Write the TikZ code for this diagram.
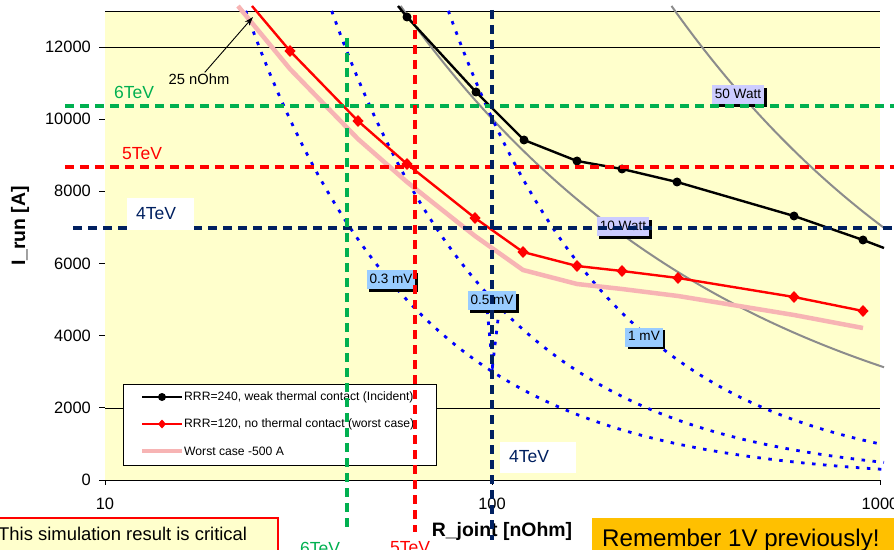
\documentclass[tikz,border=0pt]{standalone}
\usepackage{fontspec}
\setmainfont{Liberation Sans}
\usepackage{tikz}
\usepackage{xcolor}
\usetikzlibrary{arrows.meta, shadows, calc}
\definecolor{Plot_Yellow}{HTML}{FFFFCC}
\definecolor{TeV_Green}{HTML}{00B050}
\definecolor{TeV_Red}{HTML}{FF0000}
\definecolor{TeV_Navy}{HTML}{002060}
\definecolor{Volt_Blue}{HTML}{0000FF}
\definecolor{Watt_Gray}{HTML}{8C8C8C}
\definecolor{Watt_Box}{HTML}{CCCCFF}
\definecolor{Volt_Box}{HTML}{99CCFF}
\definecolor{Worst_Pink}{HTML}{F7B4B4}
\definecolor{Note_Orange}{HTML}{FFC000}
% pixel x -> R/10 (log axis, 10..1000 nOhm)
\newcommand{\logu}{pow(10,(\x-105)/387.5)}

\begin{document}
\begin{tikzpicture}[x=1bp, y=-1bp,
    tevdash/.style={dash pattern=on 9bp off 6bp, line width=3.2bp},
    voltdot/.style={Volt_Blue, dash pattern=on 3.5bp off 7.5bp, line width=2.8bp},
    wattline/.style={Watt_Gray, line width=2bp},
    labelbox/.style={inner xsep=3bp, inner ysep=3bp, text height=10bp, text depth=3bp,
        font=\fontsize{13.6}{15}\selectfont,
        drop shadow={shadow xshift=2.5bp, shadow yshift=-2.5bp, opacity=1, fill=black}},
    tevlabel/.style={inner sep=0pt, font=\fontsize{17.6}{20}\selectfont},
    ticklabel/.style={inner sep=0pt, font=\fontsize{16.5}{18}\selectfont},
    axistitle/.style={inner sep=0pt, font=\fontsize{19.5}{22}\selectfont\bfseries},
    legendtext/.style={anchor=west, inner sep=0pt, font=\fontsize{12.2}{14}\selectfont}]

    \useasboundingbox (0,0) rectangle (894,550);

    % plot area and grid
    \fill[Plot_Yellow] (105,11) rectangle (880,480);
    \foreach \gy in {11,47,408,480}
        \draw[line width=0.9bp] (105,\gy) -- (880,\gy);

    % axes
    \foreach \v in {0,2000,...,12000} {
        \draw[line width=0.9bp] (99,{480-0.03608*\v}) -- (105,{480-0.03608*\v});
        \node[ticklabel, anchor=east] (ytick\v) at (91,{480-0.03608*\v}) {\v};
    }
    \foreach \lx/\v in {105/10, 492/100, 880/1000} {
        \draw[line width=0.9bp] (\lx,480) -- (\lx,485);
        \node[ticklabel] (xtick\v) at (\lx,504) {\v};
    }
    \node[axistitle] (xtitle) at (502,531) {R\_joint [nOhm]};
    \node[axistitle, rotate=90] (ytitle) at (20,226) {I\_run [A]};

    % constant power
    \draw[wattline] plot[domain=400.6:884, samples=80] (\x, {480-36.08*sqrt(1000/\logu)});
    \draw[wattline] plot[domain=671.5:884, samples=60] (\x, {480-36.08*sqrt(5000/\logu)});

    % constant voltage
    \foreach \mv/\xs in {30/245.7, 50/331.7, 100/448.3}
        \draw[voltdot] plot[domain=\xs:884, samples=80] (\x, {480-36.08*\mv/\logu});

    % worst case -500 A
    \draw[Worst_Pink, line width=4.5bp] (238,6) -- (290,69) -- (358,139) -- (407,182) -- (475,236)
        -- (523,270) -- (577,284) -- (622,289) -- (678,296) -- (794,315) -- (863,328);

    % RRR=120
    \draw[TeV_Red, line width=2.4bp] (252,6) -- (290,51) -- (358,121) -- (407,164) -- (475,218)
        -- (523,252) -- (577,266) -- (622,271) -- (678,278) -- (794,297) -- (863,311);
    \foreach \p in {(290,51),(358,121),(407,164),(475,218),(523,252),(577,266),(622,271),(678,278),(794,297),(863,311)}
        \fill[TeV_Red] \p +(0,-6) -- +(5.5,0) -- +(0,6) -- +(-5.5,0) -- cycle;

    % RRR=240
    \draw[line width=2.4bp] (398,6) -- (407,17) -- (476,92) -- (524,140) -- (577,161)
        -- (622,169) -- (677,182) -- (794,216) -- (863,240) -- (884,248);
    \foreach \p in {(407,17),(476,92),(524,140),(577,161),(622,169),(677,182),(794,216),(863,240)}
        \fill \p circle (4.5bp);

    % 25 nOhm
    \node[inner sep=1bp, font=\fontsize{14.8}{16}\selectfont] (lbl25) at (199,79) {25 nOhm};
    \coordinate (tip25) at (253,17);
    \draw[-{Stealth[length=9bp, width=6bp]}, line width=0.9bp] (lbl25) -- (tip25);

    % curve labels
    \node[labelbox, fill=Watt_Box] (box50W) at (738,95) {50 Watt};
    \node[labelbox, fill=Watt_Box] (box10W) at (623,227) {10 Watt};
    \node[labelbox, fill=Volt_Box] (box03mV) at (391,280) {0.3 mV};
    \node[labelbox, fill=Volt_Box] (box05mV) at (492,301) {0.5 mV};
    \node[labelbox, fill=Volt_Box] (box1mV) at (644,337) {1 mV};

    % legend
    \draw[line width=0.9bp, fill=white] (123,384) rectangle (436,465);
    \draw[line width=2.2bp] (142,397) -- (182,397);
    \fill (162,397) circle (4bp);
    \node[legendtext] (leg240) at (184,397) {RRR=240, weak thermal contact (Incident)};
    \draw[TeV_Red, line width=2.2bp] (142,424) -- (182,424);
    \fill[TeV_Red] (162,424) +(0,-4.5) -- +(4,0) -- +(0,4.5) -- +(-4,0) -- cycle;
    \node[legendtext] (leg120) at (184,424) {RRR=120, no thermal contact (worst case)};
    \draw[Worst_Pink, line width=4.5bp] (142,451) -- (182,451);
    \node[legendtext] (legworst) at (184,451) {Worst case -500 A};

    % beam energy limits
    \draw[tevdash, TeV_Green] (65,106) -- (894,106);
    \draw[tevdash, TeV_Red] (65,167) -- (894,167);
    \draw[tevdash, TeV_Navy] (73,228) -- (894,228);
    \draw[tevdash, TeV_Green] (347,38) -- (347,532);
    \draw[tevdash, TeV_Red] (415,15) -- (415,532);
    \draw[tevdash, TeV_Navy] (492,10) -- (492,540);

    \node[tevlabel, text=TeV_Green] (lbl6h) at (134,92) {6TeV};
    \node[tevlabel, text=TeV_Red] (lbl5h) at (142,154) {5TeV};
    \node[tevlabel, text=TeV_Navy, fill=white, anchor=west, inner xsep=9bp, text width=49bp,
        align=left, minimum height=32bp] (lbl4h) at (127,214) {4TeV};
    \node[tevlabel, text=TeV_Navy, fill=white, anchor=west, inner xsep=9bp, text width=58bp,
        align=left, minimum height=31bp] (lbl4v) at (500,457) {4TeV};
    \node[tevlabel, text=TeV_Green] (lbl6v) at (320,548) {6TeV};
    \node[tevlabel, text=TeV_Red] (lbl5v) at (410,548) {5TeV};

    % notes
    \draw[TeV_Red, fill=Plot_Yellow, line width=1.2bp] (-5,518) rectangle (278,560);
    \node[anchor=base west, inner sep=0pt, font=\fontsize{18.5}{21}\selectfont] (note) at (-2,540)
        {This simulation result is critical};
    \fill[Note_Orange] (592,518) rectangle (900,560);
    \node[anchor=base west, inner sep=0pt, font=\fontsize{24.2}{28}\selectfont] (remember) at (602,546)
        {Remember 1V previously!};
\end{tikzpicture}
\end{document}
